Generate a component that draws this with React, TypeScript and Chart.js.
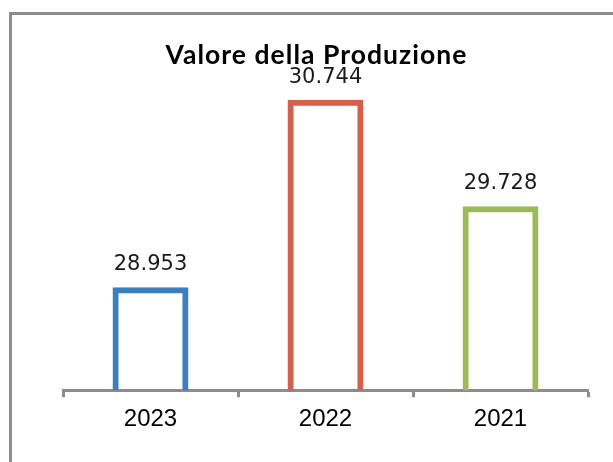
import React, { useEffect, useRef } from "react";
import { Chart, registerables } from "chart.js";

Chart.register(...registerables);

const chartTitle = "Valore della Produzione";
const categories = ["2023", "2022", "2021"];
const values = [28953, 30744, 29728];
const valueLabels = ["28.953", "30.744", "29.728"];
const barColors = ["#3B7FBE", "#D3604C", "#9BBB59"];
const yMin = 27970;
const yMax = 31000;

const labelPlugin = {
  id: "valueLabels",
  afterDatasetsDraw(chart: any) {
    const ctx = chart.ctx;
    const meta = chart.getDatasetMeta(0);
    ctx.save();
    ctx.font = "21px 'DejaVu Sans'";
    ctx.fillStyle = "#1a1a1a";
    ctx.textAlign = "center";
    ctx.textBaseline = "alphabetic";
    meta.data.forEach((bar: any, i: number) => {
      ctx.fillText(valueLabels[i], bar.x, bar.y - 17);
    });
    // title
    ctx.font = "bold 26.5px Lato";
    const w = ctx.measureText(chartTitle).width;
    const extra = Math.max(0, (301 - w) / (chartTitle.length - 1));
    if ("letterSpacing" in ctx) (ctx as any).letterSpacing = `${extra.toFixed(2)}px`;
    ctx.fillStyle = "#000";
    ctx.textAlign = "left";
    const cx = (chart.chartArea.left + chart.chartArea.right) / 2 - 9.5;
    ctx.fillText(chartTitle, cx - 150.5, 64);
    ctx.restore();
  },
};

export default function App() {
  const ref = useRef<HTMLCanvasElement>(null);
  useEffect(() => {
    if (!ref.current) return;
    const chart = new Chart(ref.current, {
      type: "bar",
      data: {
        labels: categories,
        datasets: [
          {
            data: values,
            backgroundColor: "rgba(255,255,255,0)",
            borderColor: barColors,
            borderWidth: 6,
            borderSkipped: false,
            borderRadius: 1,
            barPercentage: 0.434,
            categoryPercentage: 1,
          },
        ],
      },
      options: {
        responsive: false,
        animation: false,
        devicePixelRatio: 1,
        layout: { padding: { left: 63, right: 25, top: 73, bottom: 20 } },
        plugins: {
          legend: { display: false },
          title: { display: false },
          tooltip: { enabled: false },
        },
        scales: {
          x: {
            offset: true,
            grid: {
              offset: true,
              drawOnChartArea: false,
              drawTicks: true,
              tickLength: 7,
              tickWidth: 3,
              tickColor: "#8c8c8c",
              color: "#8c8c8c",
            },
            border: { display: true, color: "#8c8c8c", width: 3 },
            ticks: {
              color: "#000",
              padding: 8,
              font: { family: "'Liberation Sans'", size: 24 },
            },
          },
          y: {
            display: false,
            min: yMin,
            max: yMax,
          },
        },
      },
      plugins: [labelPlugin],
    });
    return () => chart.destroy();
  }, []);
  return (
    <div
      style={{
        position: "fixed",
        left: 0,
        top: 0,
        width: 613,
        height: 462,
        overflow: "hidden",
        background: "#fff",
      }}
    >
      <div
        style={{
          position: "absolute",
          left: 9,
          top: 12,
          width: 700,
          height: 600,
          borderLeft: "3px solid #8c8c8c",
          borderTop: "3px solid #8c8c8c",
        }}
      />
      <canvas
        ref={ref}
        width={613}
        height={462}
        style={{ position: "absolute", left: 0, top: 0 }}
      />
    </div>
  );
}
